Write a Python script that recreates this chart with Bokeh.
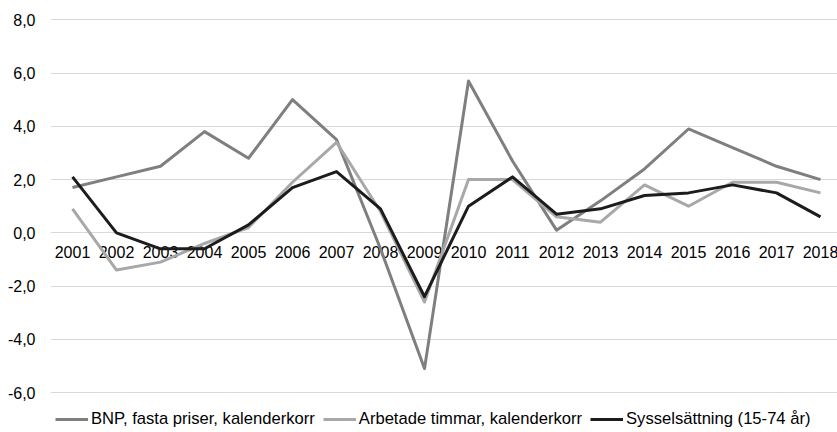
from bokeh.plotting import figure
from bokeh.models import Range1d, FixedTicker, Legend, LegendItem, ColumnDataSource
from bokeh.core.properties import value
from bokeh.embed import file_html
from bokeh.resources import INLINE

# ---- data ----
years = [2001, 2002, 2003, 2004, 2005, 2006, 2007, 2008, 2009,
         2010, 2011, 2012, 2013, 2014, 2015, 2016, 2017, 2018]
year_labels = ["2001", "2002", "2003", "2004", "2005", "2006", "2007", "2008", "2009",
               "2010", "2011", "2012", "2013", "2014", "2015", "2016", "2017", "2018"]
bnp = [1.7, 2.1, 2.5, 3.8, 2.8, 5.0, 3.5, -0.6, -5.1, 5.7, 2.7, 0.1, 1.2, 2.4, 3.9, 3.2, 2.5, 2.0]
timmar = [0.9, -1.4, -1.1, -0.4, 0.2, 1.9, 3.4, 0.8, -2.6, 2.0, 2.0, 0.6, 0.4, 1.8, 1.0, 1.9, 1.9, 1.5]
syss = [2.1, 0.0, -0.6, -0.6, 0.3, 1.7, 2.3, 0.9, -2.4, 1.0, 2.1, 0.7, 0.9, 1.4, 1.5, 1.8, 1.5, 0.6]
series_names = ["BNP, fasta priser, kalenderkorr",
                "Arbetade timmar, kalenderkorr",
                "Sysselsättning (15-74 år)"]
y_ticks = [-6, -4, -2, 0, 2, 4, 6, 8]
y_tick_labels = ["-6,0", "-4,0", "-2,0", "0,0", "2,0", "4,0", "6,0", "8,0"]

FONT = "Liberation Sans"
colors = ["#7f7f7f", "#a8a8a8", "#1c1c1c"]

frame_w = 787
step_px = 44
# frame extends below the lowest tick so the legend can sit inside it
p = figure(frame_width=frame_w, frame_height=414,
           x_range=Range1d(years[0] - 0.5, years[0] - 0.5 + frame_w / step_px),
           y_range=Range1d(-7.5, y_ticks[-1] + 0.05),
           x_axis_location=None,
           output_backend="svg", toolbar_location=None,
           min_border_left=50, min_border_right=0, min_border_top=18, min_border_bottom=0)
p.outline_line_color = None
p.background_fill_color = "white"
p.border_fill_color = "white"

p.xgrid.visible = False
p.ygrid.ticker = FixedTicker(ticks=y_ticks)
p.ygrid.grid_line_color = "#d9d9d9"
p.ygrid.grid_line_width = 1

ax = p.yaxis[0]
ax.ticker = FixedTicker(ticks=y_ticks)
ax.major_label_overrides = {t: l for t, l in zip(y_ticks, y_tick_labels)}
ax.axis_line_color = None
ax.major_tick_line_color = None
ax.minor_tick_line_color = None
ax.major_tick_out = 0
ax.major_tick_in = 0
ax.major_label_standoff = 15
ax.major_label_text_font = FONT
ax.major_label_text_font_size = "16px"
ax.major_label_text_color = "#000000"

# category labels along the zero line
lab_src = ColumnDataSource(dict(x=years, y=[0] * len(years), t=year_labels))
p.text(x="x", y="y", text="t", source=lab_src, text_font=value(FONT),
       text_font_size="16px", text_color="#000000", text_align="center",
       text_baseline="middle", y_offset=19)

src = ColumnDataSource(dict(x=years, bnp=bnp, timmar=timmar, syss=syss))
renderers = []
for key, c in zip(["bnp", "timmar", "syss"], colors):
    r = p.line(x="x", y=key, source=src, line_color=c, line_width=3, line_join="round")
    renderers.append(r)

legend = Legend(items=[LegendItem(label=n, renderers=[r]) for n, r in zip(series_names, renderers)],
                orientation="horizontal", location=(5, 3),
                glyph_width=33, glyph_height=20, label_standoff=3, spacing=8,
                padding=0, margin=0, border_line_color=None, background_fill_alpha=0,
                label_text_font=FONT, label_text_font_size="16.6px", label_text_color="#000000",
                label_height=20)
p.add_layout(legend, "center")

open("out.html", "w").write(file_html(p, INLINE))
